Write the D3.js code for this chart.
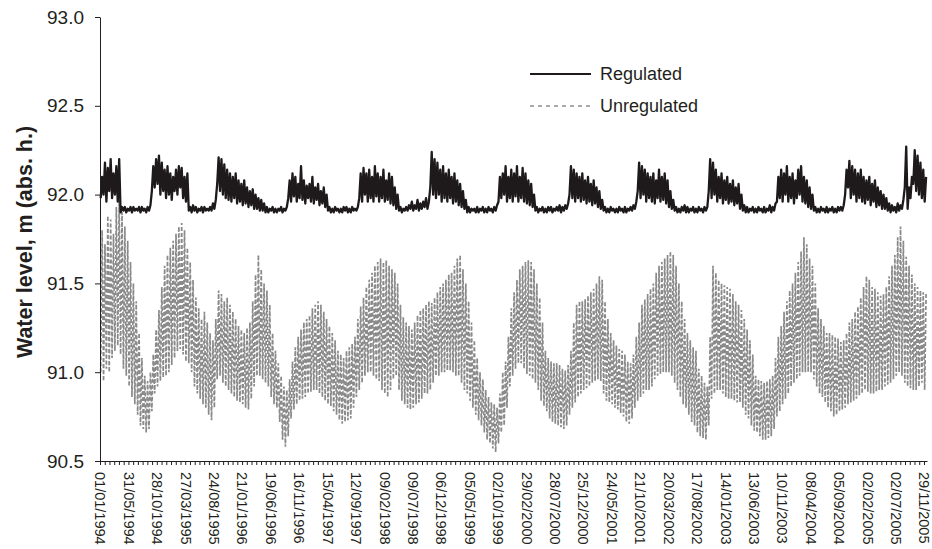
<!DOCTYPE html>
<html>
<head>
<meta charset="utf-8">
<script src="https://cdn.jsdelivr.net/npm/d3@7"></script>
<style>
  body { margin: 0; background: #fff; }
  svg text { font-family: "Liberation Sans", Arial, Helvetica, sans-serif; fill: #231f20; }
</style>
</head>
<body>
<div id="chart"></div>
<script>
// Water level, 1994-2005, one low/high pair per 15-day period
const startDate = new Date(Date.UTC(1994, 0, 1));
const periodDays = 15;
const axisDays = 4366;

const xLabels = ["01/01/1994","31/05/1994","28/10/1994","27/03/1995","24/08/1995","21/01/1996",
  "19/06/1996","16/11/1996","15/04/1997","12/09/1997","09/02/1998","09/07/1998","06/12/1998",
  "05/05/1999","02/10/1999","29/02/2000","28/07/2000","25/12/2000","24/05/2001","21/10/2001",
  "20/03/2002","17/08/2002","14/01/2003","13/06/2003","10/11/2003","08/04/2004","05/09/2004",
  "02/02/2005","02/07/2005","29/11/2005"];
const labelStepDays = 150;
const minorStepDays = 25;
const yTicks = [90.5, 91.0, 91.5, 92.0, 92.5, 93.0];

const regulatedHi = [
  92.10,92.18,92.15,92.20,92.12,92.16,92.20,
  91.93,91.93,91.92,91.93,91.93,91.92,91.93,91.93,91.92,91.93,91.94,
  92.16,92.20,92.22,92.18,92.14,92.16,92.12,92.10,92.14,92.16,92.15,92.10,92.12,
  91.93,91.94,91.93,91.92,91.93,91.93,91.92,91.93,91.95,91.97,
  92.21,92.20,92.17,92.14,92.12,92.10,92.12,92.08,92.06,92.08,92.04,92.02,92.03,92.00,91.98,91.97,91.95,
  91.93,91.92,91.93,91.92,91.92,91.93,91.92,91.93,
  92.08,92.12,92.10,92.06,92.16,92.08,92.05,92.06,92.10,92.04,92.06,92.02,92.04,92.00,
  91.93,91.92,91.93,91.92,91.92,91.93,91.93,91.92,91.93,91.92,91.93,
  92.12,92.15,92.12,92.14,92.10,92.16,92.12,92.10,92.14,92.08,92.12,92.10,92.04,92.00,
  91.93,91.92,91.93,91.94,91.96,91.94,91.97,91.95,91.96,91.98,91.96,
  92.24,92.20,92.18,92.14,92.16,92.12,92.14,92.10,92.12,92.08,92.06,92.02,91.97,
  91.93,91.92,91.92,91.93,91.92,91.93,91.92,91.93,91.92,91.93,91.94,
  92.10,92.12,92.16,92.10,92.14,92.12,92.16,92.10,92.15,92.12,92.08,92.06,92.00,
  91.93,91.92,91.93,91.92,91.93,91.93,91.92,91.93,91.94,91.93,91.94,91.95,
  92.16,92.14,92.12,92.10,92.12,92.08,92.10,92.06,92.08,92.04,92.02,91.97,
  91.93,91.92,91.93,91.92,91.92,91.93,91.92,91.93,91.92,91.93,91.94,91.96,
  92.18,92.16,92.14,92.12,92.10,92.12,92.08,92.14,92.10,92.12,92.08,92.02,91.97,
  91.93,91.92,91.93,91.94,91.93,91.92,91.93,91.92,91.93,91.92,91.93,91.93,
  92.20,92.18,92.14,92.10,92.12,92.08,92.10,92.06,92.08,92.04,92.06,92.00,
  91.94,91.93,91.92,91.93,91.92,91.93,91.92,91.93,91.92,91.94,91.93,91.95,
  92.10,92.14,92.12,92.16,92.10,92.12,92.08,92.14,92.16,92.10,92.08,92.04,92.00,
  91.93,91.92,91.93,91.92,91.93,91.92,91.93,91.92,91.93,91.93,91.94,
  92.14,92.19,92.16,92.14,92.12,92.14,92.10,92.08,92.10,92.06,92.08,92.04,92.02,92.00,91.98,
  91.95,91.94,91.93,91.95,91.94,91.97,
  92.27,92.04,92.10,92.25,92.22,92.18,92.14,92.10
];
const regulatedLo = [
  91.98,92.00,91.96,92.02,91.98,92.00,91.96,
  91.90,91.91,91.90,91.91,91.90,91.91,91.91,91.90,91.91,91.90,91.91,
  92.02,92.04,92.06,92.00,92.02,91.98,92.00,91.97,92.02,92.00,92.04,91.98,91.96,
  91.91,91.90,91.91,91.90,91.91,91.90,91.91,91.91,91.91,91.92,
  92.06,92.02,92.00,91.98,91.97,91.96,91.98,91.95,91.96,91.94,91.95,91.93,91.94,91.92,91.92,91.91,91.91,
  91.90,91.90,91.91,91.90,91.90,91.91,91.90,91.91,
  91.98,91.96,91.99,91.96,91.98,91.97,91.95,91.98,91.96,91.95,91.97,91.94,91.95,91.93,
  91.91,91.90,91.90,91.91,91.90,91.90,91.91,91.90,91.90,91.91,91.91,
  91.98,91.96,92.00,91.96,91.98,91.96,91.99,91.96,91.98,91.96,91.97,91.95,91.94,91.92,
  91.91,91.90,91.91,91.91,91.92,91.91,91.92,91.91,91.92,91.93,91.92,
  92.04,92.00,91.98,92.00,91.96,91.98,91.96,91.98,91.95,91.96,91.94,91.93,91.92,
  91.90,91.90,91.91,91.90,91.90,91.91,91.90,91.90,91.91,91.90,91.91,
  91.96,91.98,92.00,91.96,91.98,91.96,91.99,91.96,91.98,91.96,91.95,91.94,91.93,
  91.91,91.90,91.91,91.90,91.90,91.91,91.90,91.91,91.91,91.90,91.91,91.92,
  92.00,91.98,91.96,91.98,91.96,91.97,91.95,91.96,91.94,91.95,91.93,91.92,
  91.91,91.90,91.90,91.91,91.90,91.90,91.91,91.90,91.90,91.91,91.91,91.92,
  92.02,91.98,92.00,91.96,91.98,91.96,91.95,91.98,91.96,91.97,91.95,91.93,91.92,
  91.91,91.90,91.90,91.91,91.90,91.90,91.91,91.90,91.90,91.91,91.90,91.91,
  92.02,91.98,92.00,91.96,91.98,91.95,91.97,91.95,91.96,91.94,91.95,91.92,
  91.91,91.90,91.90,91.91,91.90,91.90,91.91,91.90,91.90,91.91,91.90,91.91,
  91.96,91.98,91.96,92.00,91.96,91.98,91.95,91.98,92.00,91.96,91.95,91.93,91.92,
  91.91,91.90,91.90,91.91,91.90,91.90,91.91,91.90,91.90,91.91,91.91,
  92.00,92.04,91.98,92.00,91.96,91.98,91.96,91.95,91.97,91.94,91.96,91.93,91.94,91.92,91.92,
  91.91,91.90,91.91,91.90,91.91,91.92,
  92.04,91.92,91.98,92.06,92.02,92.00,91.98,91.96
];

const unregulatedHi = [
  91.80,91.72,91.88,91.86,91.78,91.93,91.97,91.90,91.82,91.74,
  91.62,91.50,91.40,91.22,91.08,90.98,90.95,91.00,91.10,91.24,
  91.35,91.48,91.60,91.66,91.70,91.74,91.78,91.82,91.84,91.80,
  91.70,91.62,91.52,91.42,91.36,91.30,91.34,91.28,91.22,91.18,
  91.30,91.46,91.44,91.40,91.42,91.38,91.34,91.30,91.26,91.24,
  91.22,91.25,91.28,91.40,91.55,91.66,91.58,91.50,91.46,91.38,
  91.22,91.12,91.05,90.98,90.92,90.90,90.96,91.06,91.14,91.20,
  91.24,91.28,91.30,91.32,91.36,91.38,91.40,91.38,91.34,91.30,
  91.26,91.22,91.18,91.12,91.10,91.08,91.12,91.14,91.16,91.20,
  91.30,91.37,91.42,91.48,91.52,91.56,91.60,91.62,91.64,91.62,
  91.63,91.60,91.58,91.56,91.50,91.38,91.31,91.28,91.26,91.24,
  91.28,91.32,91.35,91.36,91.38,91.40,91.39,91.42,91.45,91.48,
  91.50,91.52,91.55,91.56,91.60,91.64,91.66,91.58,91.50,91.40,
  91.28,91.18,91.08,91.00,90.96,90.90,90.86,90.83,90.82,90.80,
  90.88,91.00,91.06,91.20,91.36,91.45,91.52,91.58,91.60,91.62,
  91.63,91.62,91.58,91.50,91.42,91.28,91.12,91.08,91.06,91.05,
  91.05,91.04,91.02,91.01,91.04,91.12,91.28,91.38,91.40,91.40,
  91.41,91.43,91.45,91.47,91.50,91.54,91.52,91.40,91.30,91.22,
  91.18,91.15,91.13,91.12,91.10,91.06,91.05,91.10,91.20,91.28,
  91.38,91.41,91.44,91.47,91.50,91.56,91.60,91.62,91.64,91.66,
  91.68,91.66,91.60,91.50,91.40,91.30,91.22,91.18,91.14,91.12,
  91.02,90.98,90.94,90.92,91.20,91.60,91.56,91.52,91.50,91.49,
  91.48,91.47,91.44,91.40,91.38,91.35,91.30,91.24,91.18,91.10,
  90.98,90.96,90.95,90.94,90.95,90.96,90.98,91.08,91.20,91.26,
  91.34,91.40,91.46,91.50,91.56,91.62,91.68,91.76,91.72,91.64,
  91.60,91.50,91.36,91.30,91.26,91.22,91.22,91.21,91.20,91.19,
  91.17,91.18,91.22,91.28,91.30,91.34,91.37,91.42,91.48,91.54,
  91.52,91.48,91.47,91.45,91.43,91.44,91.48,91.54,91.60,91.66,
  91.76,91.82,91.74,91.65,91.60,91.55,91.50,91.48,91.46,91.45,91.45
];
const unregulatedLo = [
  91.00,90.95,91.02,91.00,91.08,91.12,91.15,91.10,91.02,90.98,
  90.92,90.86,90.82,90.76,90.70,90.68,90.66,90.68,90.78,90.88,
  90.92,90.95,90.97,90.98,91.00,91.04,91.08,91.12,91.13,91.10,
  91.06,91.05,91.00,90.92,90.88,90.85,90.82,90.80,90.76,90.73,
  90.80,90.96,90.98,90.94,90.92,90.90,90.88,90.86,90.84,90.83,
  90.82,90.80,90.79,90.85,90.92,90.98,90.98,90.96,90.94,90.92,
  90.86,90.82,90.80,90.72,90.62,90.58,90.64,90.74,90.79,90.82,
  90.84,90.85,90.86,90.88,90.89,90.90,90.90,90.88,90.86,90.84,
  90.82,90.81,90.78,90.76,90.73,90.71,90.72,90.73,90.74,90.80,
  90.86,90.90,90.94,90.98,91.00,91.00,90.98,90.96,90.95,90.90,
  90.88,90.86,90.90,90.96,90.98,90.90,90.84,90.82,90.80,90.79,
  90.80,90.82,90.83,90.85,90.88,90.88,90.90,90.94,90.98,90.98,
  91.00,91.00,91.01,91.01,91.00,90.98,90.98,90.94,90.90,90.88,
  90.84,90.80,90.76,90.73,90.70,90.66,90.62,90.60,90.57,90.55,
  90.60,90.66,90.70,90.80,90.92,90.98,91.02,91.05,91.05,91.02,
  90.99,90.98,90.96,90.94,90.90,90.84,90.81,90.78,90.74,90.72,
  90.71,90.70,90.69,90.68,90.70,90.76,90.80,90.83,90.86,90.88,
  90.90,90.91,90.92,90.94,90.95,90.96,90.95,90.88,90.84,90.83,
  90.82,90.80,90.79,90.77,90.75,90.72,90.71,90.74,90.80,90.84,
  90.86,90.88,90.90,90.90,90.92,90.96,90.98,90.99,91.00,91.00,
  91.00,90.98,90.94,90.90,90.86,90.82,90.80,90.76,90.72,90.70,
  90.66,90.64,90.63,90.62,90.70,90.85,90.88,90.90,90.90,90.88,
  90.86,90.85,90.85,90.84,90.83,90.83,90.80,90.76,90.74,90.70,
  90.67,90.66,90.64,90.62,90.62,90.63,90.64,90.68,90.75,90.78,
  90.82,90.85,90.88,90.92,90.94,90.96,90.98,91.00,91.00,91.00,
  91.00,90.96,90.92,90.88,90.86,90.83,90.80,90.78,90.75,90.76,
  90.78,90.79,90.80,90.82,90.83,90.84,90.85,90.87,90.88,90.90,
  90.89,90.88,90.88,90.89,90.90,90.90,90.92,90.93,90.94,90.96,
  90.98,91.00,90.98,90.94,90.92,90.91,90.90,90.90,90.92,90.94,90.90
];

const width = 932, height = 549;
const svg = d3.select("#chart").append("svg")
  .attr("width", width)
  .attr("height", height);

const x = d3.scaleUtc()
  .domain([startDate, d3.utcDay.offset(startDate, axisDays)])
  .range([100, 927]);
const y = d3.scaleLinear()
  .domain([90.5, 93.0])
  .range([461, 17]);

// each 15-day period gives its low then its high
function toPoints(lo, hi) {
  const n = Math.min(lo.length, hi.length);
  const pts = [];
  for (let i = 0; i < n; i++) {
    pts.push({ date: d3.utcHour.offset(startDate, (i * periodDays + 3.75) * 24), v: lo[i] });
    pts.push({ date: d3.utcHour.offset(startDate, (i * periodDays + 11.25) * 24), v: hi[i] });
  }
  return pts;
}

const line = d3.line()
  .x(d => x(d.date))
  .y(d => y(d.v));

svg.append("path")
  .datum(toPoints(unregulatedLo, unregulatedHi))
  .attr("fill", "none")
  .attr("stroke", "#8a8a8a")
  .attr("stroke-width", 1.7)
  .attr("stroke-dasharray", "4,2")
  .attr("d", line);

svg.append("path")
  .datum(toPoints(regulatedLo, regulatedHi))
  .attr("fill", "none")
  .attr("stroke", "#1e1a1b")
  .attr("stroke-width", 2.3)
  .attr("stroke-linejoin", "round")
  .attr("d", line);

// y axis
const yAxis = svg.append("g")
  .attr("transform", "translate(100,0)")
  .call(d3.axisLeft(y).tickValues(yTicks).tickFormat(d3.format(".1f"))
    .tickSize(5).tickSizeOuter(0).tickPadding(11));
yAxis.selectAll("text").style("font-size", "19px");

// x axis: minor ticks every 25 days
const minorDates = d3.range(0, axisDays, minorStepDays).map(d => d3.utcDay.offset(startDate, d));
svg.append("g")
  .attr("transform", "translate(0,461)")
  .call(d3.axisBottom(x).tickValues(minorDates).tickFormat("").tickSize(4).tickSizeOuter(0));

// x labels every 150 days
const labelDates = xLabels.map((l, i) => d3.utcDay.offset(startDate, i * labelStepDays));
const xLab = svg.append("g")
  .attr("transform", "translate(0,461)")
  .call(d3.axisBottom(x).tickValues(labelDates).tickFormat((d, i) => xLabels[i]).tickSize(0));
xLab.select(".domain").remove();
xLab.selectAll("text")
  .attr("transform", "rotate(90)")
  .attr("x", 11)
  .attr("y", 0)
  .attr("dy", "0.35em")
  .style("text-anchor", "start")
  .style("font-size", "14.5px");

svg.selectAll(".domain, .tick line").attr("stroke", "#231f20");

// axis title
svg.append("text")
  .attr("transform", "translate(24,242) rotate(-90)")
  .attr("text-anchor", "middle")
  .attr("dy", "0.35em")
  .style("font-size", "21.5px")
  .style("font-weight", "bold")
  .text("Water level, m (abs. h.)");

// legend
const legend = [
  { name: "Regulated", color: "#1e1a1b", dash: null, w: 1.8, y: 74 },
  { name: "Unregulated", color: "#8c8c8c", dash: "4,4", w: 1.3, y: 106 }
];
const lg = svg.append("g");
lg.selectAll("line").data(legend).enter().append("line")
  .attr("x1", 530).attr("x2", 591)
  .attr("y1", d => d.y).attr("y2", d => d.y)
  .attr("stroke", d => d.color)
  .attr("stroke-width", d => d.w)
  .attr("stroke-dasharray", d => d.dash);
lg.selectAll("text").data(legend).enter().append("text")
  .attr("x", 600).attr("y", d => d.y)
  .attr("dy", "0.35em")
  .style("font-size", "18px")
  .text(d => d.name);
</script>
</body>
</html>
